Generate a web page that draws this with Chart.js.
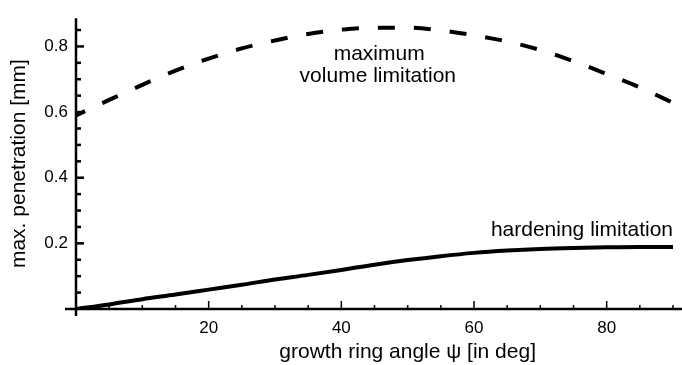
<!DOCTYPE html>
<html>
<head>
<meta charset="utf-8">
<script src="https://cdn.jsdelivr.net/npm/chart.js@4/dist/chart.umd.min.js"></script>
<style>
  html, body { margin: 0; padding: 0; background: #fff; }
  #wrap { width: 682px; height: 365px; position: relative; }
</style>
</head>
<body>
<div id="wrap"><canvas id="chart"></canvas></div>
<script>
// growth ring angle psi [deg]
const angles = [0, 5, 10, 15, 20, 25, 30, 35, 40, 45, 50, 55, 60, 65, 70, 75, 80, 85, 90];
// max. penetration [mm]
const volumeLimit = [0.590, 0.637, 0.683, 0.726, 0.763, 0.794, 0.818, 0.838, 0.851, 0.857,
                     0.857, 0.849, 0.834, 0.815, 0.789, 0.755, 0.716, 0.675, 0.628];
const hardeningLimit = [0.000, 0.014, 0.030, 0.044, 0.059, 0.074, 0.090, 0.104, 0.119, 0.135,
                        0.149, 0.161, 0.171, 0.178, 0.183, 0.186, 0.188, 0.189, 0.189];

const xTicks = [0, 5, 10, 15, 20, 25, 30, 35, 40, 45, 50, 55, 60, 65, 70, 75, 80, 85, 90];
const xLabelled = [20, 40, 60, 80];
const yTicks = [0, 0.05, 0.1, 0.15, 0.2, 0.25, 0.3, 0.35, 0.4, 0.45, 0.5, 0.55, 0.6, 0.65, 0.7, 0.75, 0.8, 0.85];
const yLabelled = [0.2, 0.4, 0.6, 0.8];

const FONT = "'Liberation Sans', Arial, Helvetica, sans-serif";

function isLabelled(list, v) {
    return list.some(l => Math.abs(l - v) < 1e-6);
}

// axes drawn inward like the original figure, plus in-plot labels
const axesPlugin = {
    id: 'inwardAxes',
    afterDraw(chart) {
        const ctx = chart.ctx;
        const xs = chart.scales.x;
        const ys = chart.scales.y;
        const x0 = xs.getPixelForValue(0);
        const y0 = ys.getPixelForValue(0);
        const top = chart.chartArea.top;

        ctx.save();
        ctx.strokeStyle = '#000';
        ctx.lineCap = 'butt';

        // axis lines
        ctx.lineWidth = 2.5;
        ctx.beginPath();
        ctx.moveTo(x0 - 11, y0);
        ctx.lineTo(chart.width, y0);
        ctx.moveTo(x0, top);
        ctx.lineTo(x0, y0 + 7);
        ctx.stroke();

        // y ticks pointing right
        ctx.lineWidth = 2.5;
        yTicks.forEach(v => {
            if (v === 0) return;
            const py = ys.getPixelForValue(v);
            const len = isLabelled(yLabelled, v) ? 8 : 5;
            ctx.beginPath();
            ctx.moveTo(x0, py);
            ctx.lineTo(x0 + len, py);
            ctx.stroke();
        });

        // x ticks pointing up
        ctx.lineWidth = 1.5;
        xTicks.forEach(v => {
            if (v === 0) return;
            const px = xs.getPixelForValue(v);
            const len = isLabelled(xLabelled, v) ? 8 : 4;
            ctx.beginPath();
            ctx.moveTo(px, y0);
            ctx.lineTo(px, y0 - len);
            ctx.stroke();
        });

        // text
        ctx.fillStyle = '#000';
        ctx.font = '21px ' + FONT;
        ctx.textBaseline = 'alphabetic';

        ctx.textAlign = 'center';
        ctx.fillText('growth ring angle \u03c8 [in deg]', xs.getPixelForValue(50), 358);

        ctx.fillText('maximum', xs.getPixelForValue(45.7), ys.getPixelForValue(0.760));
        ctx.fillText('volume limitation', xs.getPixelForValue(45.5), ys.getPixelForValue(0.692));

        ctx.textAlign = 'right';
        ctx.fillText('hardening limitation', xs.getPixelForValue(90), ys.getPixelForValue(0.2216));
        ctx.restore();
    }
};

new Chart(document.getElementById('chart'), {
    type: 'line',
    data: {
        labels: angles,
        datasets: [
            {
                label: 'maximum volume limitation',
                data: angles.map((a, i) => ({ x: a, y: volumeLimit[i] })),
                borderColor: '#000',
                borderWidth: 4,
                borderDash: [17, 19],
                borderDashOffset: 7,
                borderCapStyle: 'butt',
                pointRadius: 0,
                cubicInterpolationMode: 'monotone',
                fill: false
            },
            {
                label: 'hardening limitation',
                data: angles.map((a, i) => ({ x: a, y: hardeningLimit[i] })),
                borderColor: '#000',
                borderWidth: 4,
                pointRadius: 0,
                cubicInterpolationMode: 'monotone',
                fill: false
            }
        ]
    },
    options: {
        responsive: true,
        maintainAspectRatio: false,
        animation: false,
        layout: { padding: { top: 13, right: 6, left: 0, bottom: 0 } },
        plugins: {
            legend: { display: false },
            tooltip: { enabled: false }
        },
        scales: {
            x: {
                type: 'linear',
                min: 0,
                max: 90,
                grid: { display: false, drawTicks: false },
                border: { display: false },
                afterBuildTicks: scale => { scale.ticks = xTicks.map(v => ({ value: v })); },
                afterFit: scale => { scale.height = 56; },
                ticks: {
                    autoSkip: false,
                    maxRotation: 0,
                    padding: 9,
                    color: '#000',
                    font: { family: FONT, size: 17 },
                    callback: v => isLabelled(xLabelled, v) ? String(v) : ''
                }
            },
            y: {
                type: 'linear',
                min: 0,
                max: 0.886,
                grid: { display: false, drawTicks: false },
                border: { display: false },
                afterBuildTicks: scale => { scale.ticks = yTicks.map(v => ({ value: v })); },
                afterFit: scale => { scale.width = 76; },
                ticks: {
                    autoSkip: false,
                    padding: 8,
                    color: '#000',
                    font: { family: FONT, size: 17 },
                    callback: v => isLabelled(yLabelled, v) ? v.toFixed(1) : ''
                },
                title: {
                    display: true,
                    text: 'max. penetration [mm]',
                    color: '#000',
                    font: { family: FONT, size: 21 },
                    padding: { top: 7, bottom: 0 }
                }
            }
        }
    },
    plugins: [axesPlugin]
});
</script>
</body>
</html>
